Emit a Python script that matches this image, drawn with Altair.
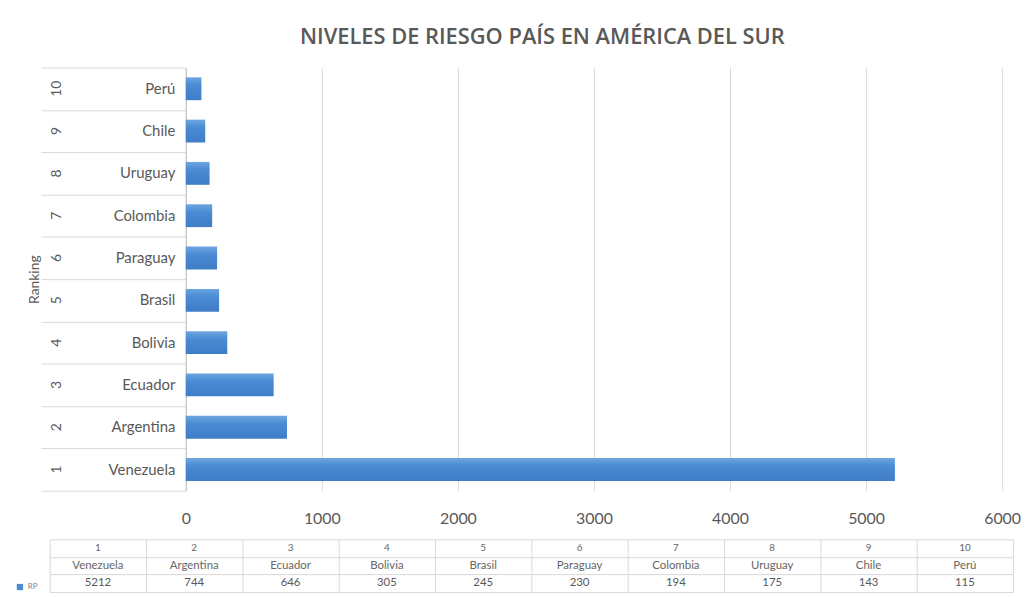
import altair as alt
import pandas as pd

# ---- data ----
ranking = [1, 2, 3, 4, 5, 6, 7, 8, 9, 10]
paises = ["Venezuela", "Argentina", "Ecuador", "Bolivia", "Brasil",
          "Paraguay", "Colombia", "Uruguay", "Chile", "Perú"]
riesgo = [5212, 744, 646, 305, 245, 230, 194, 175, 143, 115]
serie = "RP"
titulo = "NIVELES DE RIESGO PAÍS EN AMÉRICA DEL SUR"
eje_y_titulo = "Ranking"
ticks_x = [0, 1000, 2000, 3000, 4000, 5000, 6000]

FONT = "Lato"
GRAY = "#595959"
LINE = "#d9d9d9"
BLUE = "#4a8bd4"

df = pd.DataFrame({"rank": ranking, "pais": paises, "rp": riesgo})
df["clave"] = df["rank"].astype(str) + "|" + df["pais"]
df["serie"] = serie
orden = list(df.sort_values("rank", ascending=False)["clave"])


def yenc(axis):
    return alt.Y("clave:N", sort=orden,
                 scale=alt.Scale(paddingInner=0, paddingOuter=0), axis=axis)


xaxis = alt.Axis(values=ticks_x, title=None, grid=True, gridColor=LINE,
                 ticks=False, domain=False, labelPadding=20,
                 labelFontSize=16, labelColor=GRAY, labelFont=FONT,
                 format="d", labelFlush=False)


def xenc(axis=xaxis):
    return alt.X("rp:Q", scale=alt.Scale(domain=[0, 6000], nice=False), axis=axis)


degradado = alt.LinearGradient(
    gradient="linear", x1=0, x2=0, y1=0, y2=1,
    stops=[alt.GradientStop(color="#6ea6df", offset=0),
           alt.GradientStop(color="#4a8bd4", offset=0.35),
           alt.GradientStop(color="#3f7dc6", offset=1)])

bars = alt.Chart(df).mark_bar(height=alt.RelativeBandSize(band=0.54),
                              color=degradado).encode(
    x=xenc(),
    y=yenc(alt.Axis(title=None, orient="left",
                    labelExpr="split(datum.value,'|')[1]", ticks=False,
                    domain=True, domainColor="#bfbfbf", labelPadding=11,
                    labelFontSize=15, labelColor=GRAY, labelFont=FONT, grid=False)),
)

rank_layer = alt.Chart(df).mark_square(opacity=0).encode(
    x=xenc(),
    y=yenc(alt.Axis(title=eje_y_titulo, orient="left",
                    labelExpr="split(datum.value,'|')[0]", labelAngle=270,
                    labelAlign="center", labelBaseline="middle",
                    labelPadding=130, ticks=False, domain=False, grid=False,
                    labelFontSize=14, labelColor=GRAY, labelFont=FONT,
                    titleFont=FONT, titleFontSize=14, titleColor=GRAY,
                    titleFontWeight="normal", titlePadding=8)),
    color=alt.Color("serie:N", scale=alt.Scale(range=[BLUE]),
                    legend=alt.Legend(title=None, orient="none", legendX=-34,
                                      legendY=519, symbolType="square",
                                      symbolSize=40, symbolOpacity=1,
                                      labelFontSize=8, labelColor="#7f7f7f",
                                      labelFont=FONT, symbolStrokeWidth=0)),
)

sep_layer = alt.Chart(df).mark_point(opacity=0).encode(
    x=xenc(),
    y=yenc(alt.Axis(title=None, orient="left", labels=False, ticks=True,
                    tickBand="extent", tickSize=146, tickColor=LINE,
                    domain=False, grid=False))
)

top = alt.layer(bars, rank_layer, sep_layer).resolve_axis(y="independent").properties(
    width=822, height=426,
    title=alt.Title(titulo, font="Open Sans", fontSize=22, fontWeight=600,
                    color=GRAY, anchor="middle", frame="group", dx=-52, offset=18),
)

# invisible spacer that sets the left edge shared with the data table
spacer = alt.Chart(df).mark_point(opacity=0).encode(
    x=xenc(axis=None), y=alt.Y("clave:N", axis=None)
).properties(width=137, height=426)

# ---- data table ----
filas = []
for r, p, v in zip(ranking, paises, riesgo):
    filas.append({"col": str(r), "fila": "a", "txt": str(r)})
    filas.append({"col": str(r), "fila": "b", "txt": p})
    filas.append({"col": str(r), "fila": "c", "txt": str(v)})
tdf = pd.DataFrame(filas)
orden_col = [str(r) for r in ranking]

xt = alt.X("col:N", sort=orden_col,
           scale=alt.Scale(paddingInner=0, paddingOuter=0),
           axis=alt.Axis(title=None, labels=False, ticks=False,
                         domain=False, grid=True, gridColor=LINE,
                         tickBand="extent"))
yt = alt.Y("fila:N", sort=["a", "b", "c"],
           scale=alt.Scale(paddingInner=0, paddingOuter=0),
           axis=alt.Axis(title=None, labels=False, ticks=False,
                         domain=False, grid=True, gridColor=LINE,
                         tickBand="extent"))

t_rank = alt.Chart(tdf).transform_filter("datum.fila == 'a'").mark_text(
    font=FONT, fontSize=10, color="#666666").encode(x=xt, y=yt, text="txt:N")
t_pais = alt.Chart(tdf).transform_filter("datum.fila == 'b'").mark_text(
    font=FONT, fontSize=11.5, color="#666666").encode(x=xt, y=yt, text="txt:N")
t_val = alt.Chart(tdf).transform_filter("datum.fila == 'c'").mark_text(
    font=FONT, fontSize=11.5, color=GRAY).encode(x=xt, y=yt, text="txt:N")

table = alt.layer(t_rank, t_pais, t_val).properties(width=970, height=53)

upper = alt.hconcat(spacer, top, spacing=0, bounds="flush")

chart = alt.vconcat(upper, table, spacing=475, bounds="flush").properties(
    padding={"left": 8, "top": 16, "right": 0, "bottom": 0}
).configure_view(stroke=None)

chart.save("out.html", embed_options={"renderer": "svg", "actions": False})
